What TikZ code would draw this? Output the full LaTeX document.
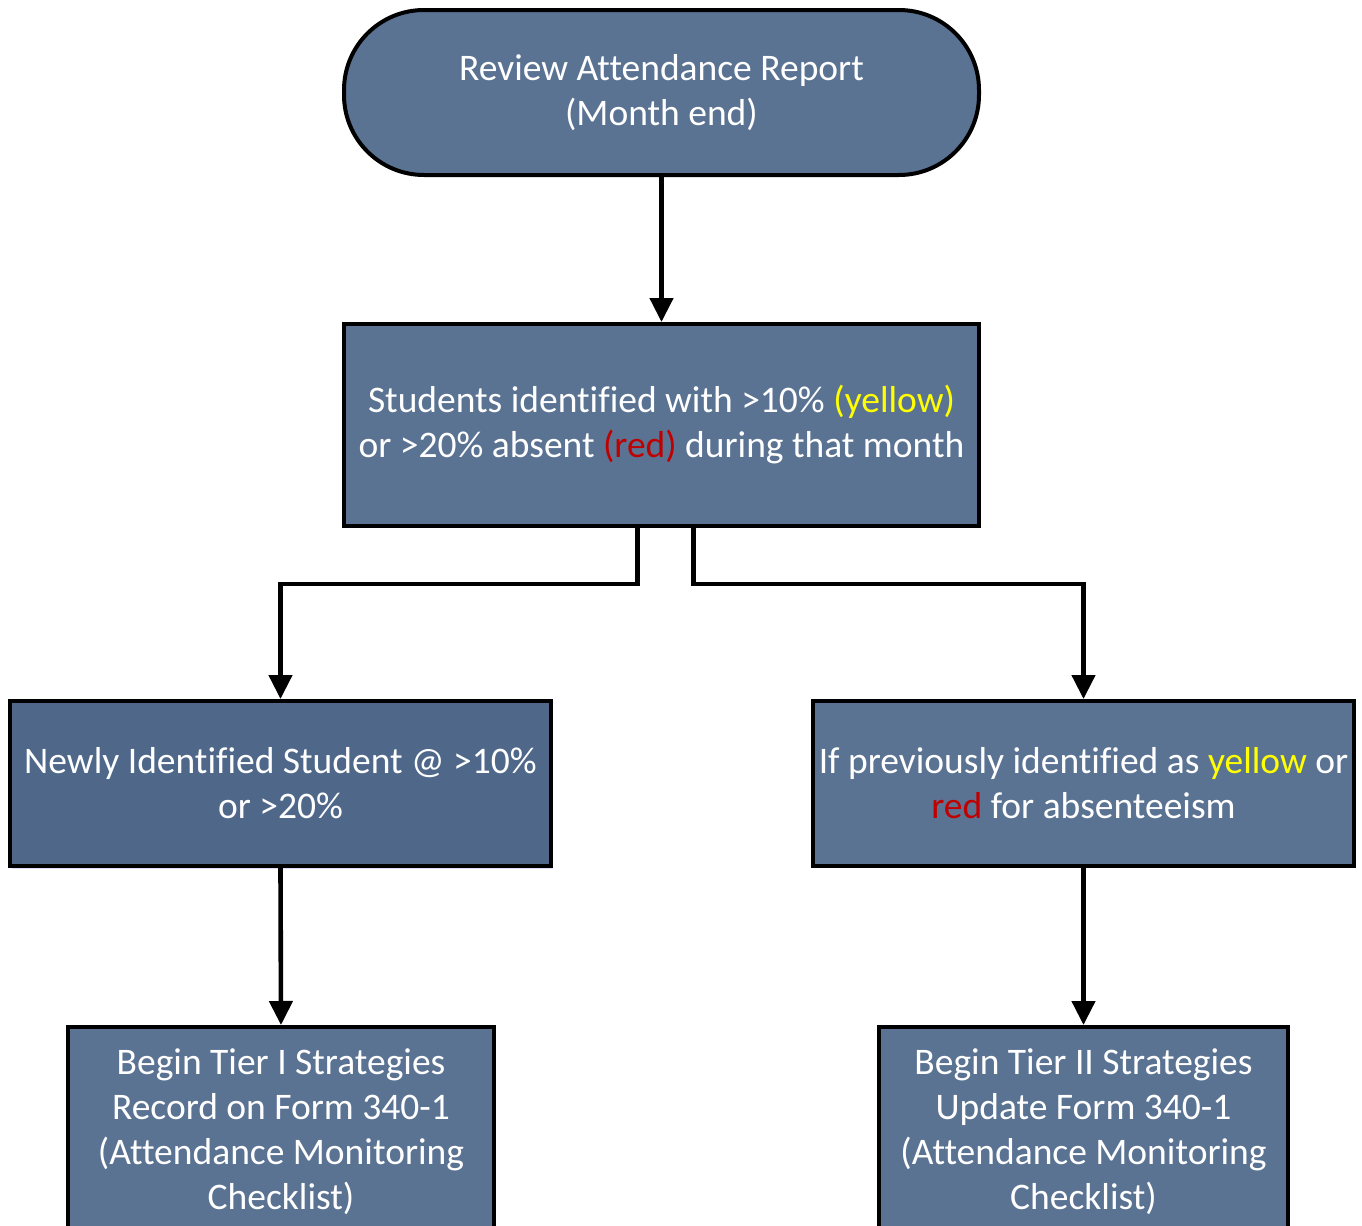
\documentclass[tikz,border=0pt]{standalone}
\usepackage{fontspec}
\setmainfont{Carlito}[Ligatures={NoCommon}]
\usetikzlibrary{arrows.meta,shadows}
\definecolor{boxfill}{RGB}{91,115,147}
\definecolor{boxfilldark}{RGB}{79,104,138}
\definecolor{ylw}{RGB}{255,255,0}
\definecolor{rd}{RGB}{192,0,0}
\tikzset{
  box/.style={draw=black, line width=2pt, fill=boxfill, text=white, align=center,
    inner sep=0pt, font=\fontsize{18.75}{22.5}\selectfont},
  terminal/.style={box, rounded corners=40pt},
  conn/.style={draw=black, line width=2.3pt, -{Triangle[length=12pt,width=11.5pt]}}
}
\begin{document}
\begin{tikzpicture}[x=0.5pt,y=-0.5pt]
\useasboundingbox (0,0) rectangle (1362,1226);
\clip (0,0) rectangle (1362,1226);
\fill[white] (0,0) rectangle (1362,1226);
\node[terminal, minimum width=317.5pt, minimum height=82.5pt] (t) at (661.5,92.5)
  {Review Attendance Report\\(Month end)};
\node[box, minimum width=317.5pt, minimum height=101pt] (b2) at (661.5,425)
  {Students identified with >10\% \textcolor{ylw}{(yellow)}\\or >20\% absent \textcolor{rd}{(red)} during that month};
\node[box, fill=boxfilldark, minimum width=270.5pt, minimum height=82.5pt,
  drop shadow={shadow xshift=0.8pt, shadow yshift=-1.6pt, fill=blue!25, opacity=0.5}] (b3l) at (280.5,783.5)
  {Newly Identified Student @ >10\%\\or >20\%};
\node[box, minimum width=270.5pt, minimum height=82.5pt] (b3r) at (1083.5,783.5)
  {If previously identified as \textcolor{ylw}{yellow} or\\\textcolor{rd}{red} for absenteeism};
\node[box, minimum width=213pt, minimum height=105pt] (b4l) at (281,1132)
  {Begin Tier I Strategies\\Record on Form 340-1\\(Attendance Monitoring\\Checklist)};
\node[box, minimum width=204.5pt, minimum height=105pt] (b4r) at (1083.5,1132)
  {Begin Tier II Strategies\\Update Form 340-1\\(Attendance Monitoring\\Checklist)};
\draw[conn] (t.south) -- (b2.north);
\draw[conn, line cap=round] ([xshift=-12pt]b2.south) -- ++(0,56) -| (b3l.north);
\draw[conn, line cap=round] ([xshift=16pt]b2.south) -- ++(0,56) -| (b3r.north);
\draw[conn] (b3l.south) -- (b4l.north);
\draw[conn] (b3r.south) -- (b4r.north);
\end{tikzpicture}
\end{document}
